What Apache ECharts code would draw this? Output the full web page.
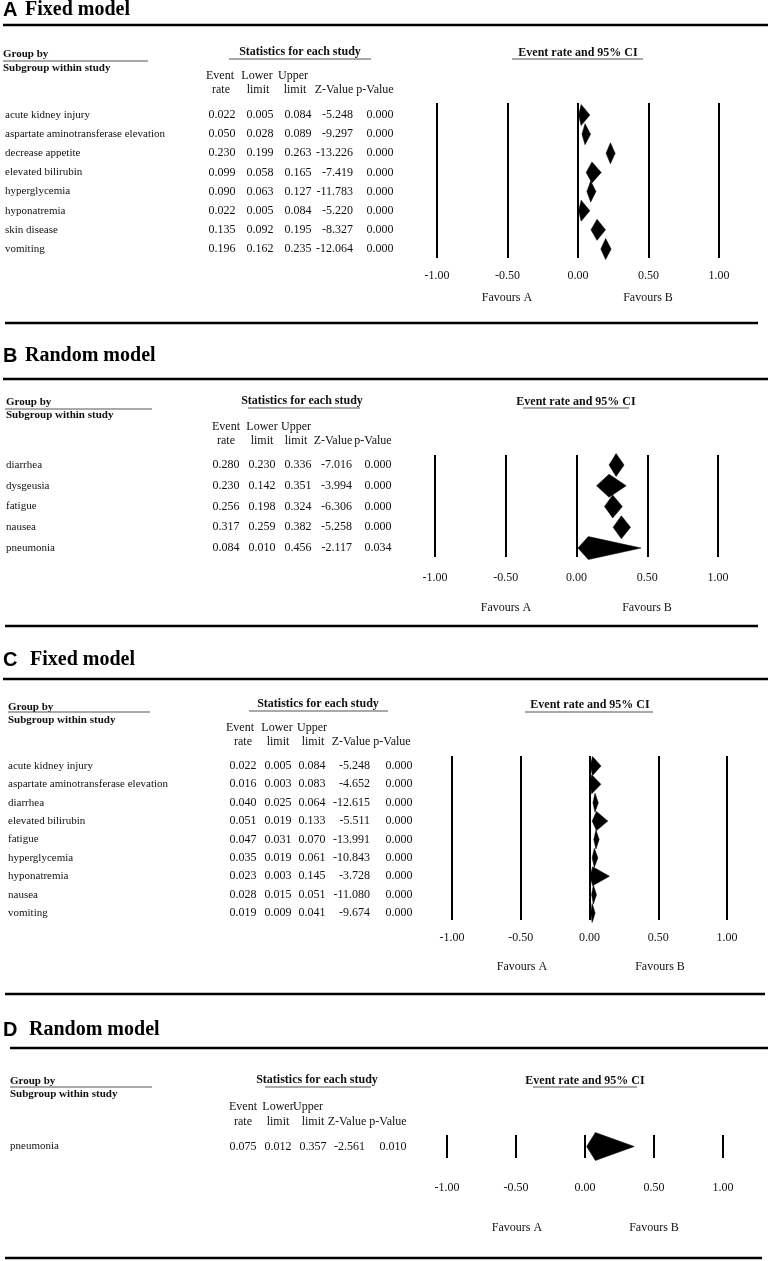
<!DOCTYPE html>
<html><head><meta charset="utf-8">
<script src="https://cdn.jsdelivr.net/npm/echarts@6/dist/echarts.min.js"></script>
<style>html,body{margin:0;padding:0;background:#fff}#c{width:768px;height:1261px}</style>
</head><body><div id="c"></div>
<script>
// ---------- DATA ----------
const panelLetters = ['A', 'B', 'C', 'D'];
const panelTitles = ['Fixed model', 'Random model', 'Fixed model', 'Random model'];
const groupByLabel = 'Group by';
const subgroupLabel = 'Subgroup within study';
const statsLabel = 'Statistics for each study';
const ciLabel = 'Event rate and 95% CI';
const headerRow1 = ['Event', 'Lower', 'Upper'];
const headerRow2 = ['rate', 'limit', 'limit', 'Z-Value', 'p-Value'];
const favourLabels = ['Favours A', 'Favours B'];
const xMin = -1, xMax = 1, xInterval = 0.5;

const aNames = ['acute kidney injury', 'aspartate aminotransferase elevation', 'decrease appetite', 'elevated bilirubin', 'hyperglycemia', 'hyponatremia', 'skin disease', 'vomiting'];
const aRate  = [0.022, 0.050, 0.230, 0.099, 0.090, 0.022, 0.135, 0.196];
const aLower = [0.005, 0.028, 0.199, 0.058, 0.063, 0.005, 0.092, 0.162];
const aUpper = [0.084, 0.089, 0.263, 0.165, 0.127, 0.084, 0.195, 0.235];
const aZ     = [-5.248, -9.297, -13.226, -7.419, -11.783, -5.220, -8.327, -12.064];
const aP     = [0.000, 0.000, 0.000, 0.000, 0.000, 0.000, 0.000, 0.000];

const bNames = ['diarrhea', 'dysgeusia', 'fatigue', 'nausea', 'pneumonia'];
const bRate  = [0.280, 0.230, 0.256, 0.317, 0.084];
const bLower = [0.230, 0.142, 0.198, 0.259, 0.010];
const bUpper = [0.336, 0.351, 0.324, 0.382, 0.456];
const bZ     = [-7.016, -3.994, -6.306, -5.258, -2.117];
const bP     = [0.000, 0.000, 0.000, 0.000, 0.034];

const cNames = ['acute kidney injury', 'aspartate aminotransferase elevation', 'diarrhea', 'elevated bilirubin', 'fatigue', 'hyperglycemia', 'hyponatremia', 'nausea', 'vomiting'];
const cRate  = [0.022, 0.016, 0.040, 0.051, 0.047, 0.035, 0.023, 0.028, 0.019];
const cLower = [0.005, 0.003, 0.025, 0.019, 0.031, 0.019, 0.003, 0.015, 0.009];
const cUpper = [0.084, 0.083, 0.064, 0.133, 0.070, 0.061, 0.145, 0.051, 0.041];
const cZ     = [-5.248, -4.652, -12.615, -5.511, -13.991, -10.843, -3.728, -11.080, -9.674];
const cP     = [0.000, 0.000, 0.000, 0.000, 0.000, 0.000, 0.000, 0.000, 0.000];

const dNames = ['pneumonia'];
const dRate  = [0.075];
const dLower = [0.012];
const dUpper = [0.357];
const dZ     = [-2.561];
const dP     = [0.010];

// ---------- LAYOUT ----------
const layouts = [
  {letterY:10, titleX:25, ruleY:25, ruleX:[3,768],
   gbX:3, gbY:54, gbUlY:61, gbUlX:[3,148], subY:68,
   statX:300, statY:52, statUl:[229,371,59], ciX:578, ciY:53, ciUl:[512,643,59],
   h1Y:76, h1X:[220,257,293], h2Y:90, h2X:[221,258,295,334,375],
   nameX:5, colX:[222,260,298], zX:353, pX:380,
   top:103, height:155, left:437, right:49, yMin:-0.63, yMax:7.47, dh:10.5, margin:12,
   favY:298, favX:[507,648], botY:323, botX:[5,758]},
  {letterY:356, titleX:25, ruleY:379, ruleX:[3,768],
   gbX:6, gbY:402, gbUlY:409, gbUlX:[5,152], subY:415,
   statX:302, statY:401, statUl:[248,360,408], ciX:576, ciY:402, ciUl:[523,629,408],
   h1Y:427, h1X:[226,262,296], h2Y:441, h2X:[226,262,296,333,373],
   nameX:6, colX:[226,262,298], zX:352, pX:378,
   top:455, height:102, left:435, right:50, yMin:-0.48, yMax:4.43, dh:11.5, margin:15,
   favY:608, favX:[506,647], botY:626, botX:[5,758]},
  {letterY:660, titleX:30, ruleY:679, ruleX:[3,768],
   gbX:8, gbY:707, gbUlY:712, gbUlX:[8,150], subY:720,
   statX:318, statY:704, statUl:[249,388,711], ciX:590, ciY:705, ciUl:[525,653,712],
   h1Y:728, h1X:[240,277,312], h2Y:742, h2X:[243,278,313,351,392],
   nameX:8, colX:[243,278,312], zX:370, pX:399,
   top:756, height:164, left:452, right:41, yMin:-0.54, yMax:8.38, dh:9.5, margin:12,
   favY:967, favX:[522,660], botY:994, botX:[5,765]},
  {letterY:1030, titleX:29, ruleY:1048, ruleX:[10,768],
   gbX:10, gbY:1081, gbUlY:1087, gbUlX:[10,152], subY:1094,
   statX:317, statY:1080, statUl:[265,371,1087], ciX:585, ciY:1081, ciUl:[533,637,1087],
   h1Y:1107, h1X:[243,278,308], h2Y:1122, h2X:[243,278,313,347,388],
   nameX:10, colX:[243,278,313], zX:365, pX:393,
   top:1135, height:23, left:447, right:45, yMin:-0.5, yMax:0.5, dh:14, margin:24,
   favY:1228, favX:[517,654], botY:1258, botX:[5,762]}
];

const panels = [
  [aNames, aRate, aLower, aUpper, aZ, aP],
  [bNames, bRate, bLower, bUpper, bZ, bP],
  [cNames, cRate, cLower, cUpper, cZ, cP],
  [dNames, dRate, dLower, dUpper, dZ, dP]
];

const SERIF = "'Liberation Serif', 'Times New Roman', serif";
const SANS = "'Liberation Sans', Arial, sans-serif";
const INK = '#111';

function txt(text, x, y, align, font, fill) {
  return {type:'text', x:x, y:y, silent:true,
    style:{text:text, font:font, fill:fill || INK, align:align, verticalAlign:'middle', textAlign:align, textVerticalAlign:'middle'}};
}
function ln(x1, y1, x2, y2, w, c) {
  return {type:'line', silent:true, shape:{x1:x1, y1:y1, x2:x2, y2:y2}, style:{stroke:c || '#000', lineWidth:w}};
}

const grids = [], xAxes = [], yAxes = [], series = [], graphics = [];

layouts.forEach((L, gi) => {
  const [names, rate, lower, upper, zv, pv] = panels[gi];
  grids.push({left:L.left, right:L.right, top:L.top, height:L.height, outerBoundsMode:'none', containLabel:false});
  xAxes.push({type:'value', gridIndex:gi, min:xMin, max:xMax, interval:xInterval,
    axisLine:{show:false}, axisTick:{show:false},
    splitLine:{show:true, lineStyle:{color:'#000', width:2}},
    axisLabel:{margin:L.margin, color:INK, fontFamily:SERIF, fontSize:12, formatter:v => v.toFixed(2)}});
  yAxes.push({type:'value', gridIndex:gi, min:L.yMin, max:L.yMax, inverse:true, show:false, splitLine:{show:false}});

  // diamonds
  series.push({type:'custom', xAxisIndex:gi, yAxisIndex:gi, silent:true, clip:false,
    data: rate.map((r, i) => [r, i, lower[i], upper[i]]),
    encode:{x:0, y:1},
    renderItem:(params, api) => {
      const est = api.value(0), row = api.value(1), lo = api.value(2), hi = api.value(3);
      const pl = api.coord([lo, row]), pe = api.coord([est, row]), ph = api.coord([hi, row]);
      const h = L.dh;
      return {type:'polygon', shape:{points:[[pl[0], pl[1]], [pe[0], pe[1] - h], [ph[0], ph[1]], [pe[0], pe[1] + h]]},
        style:{fill:'#000', stroke:'#000', lineWidth:0.5}};
    }});

  // table rows aligned with the axis rows
  series.push({type:'custom', xAxisIndex:gi, yAxisIndex:gi, silent:true, clip:false,
    data: names.map((n, i) => [0, i]),
    encode:{x:0, y:1},
    renderItem:(params, api) => {
      const i = params.dataIndex;
      const y = api.coord([0, i])[1];
      const f11 = '11px ' + SERIF, f12 = '12px ' + SERIF;
      return {type:'group', children:[
        txt(names[i], L.nameX, y, 'left', f11),
        txt(rate[i].toFixed(3), L.colX[0], y, 'center', f12),
        txt(lower[i].toFixed(3), L.colX[1], y, 'center', f12),
        txt(upper[i].toFixed(3), L.colX[2], y, 'center', f12),
        txt(zv[i].toFixed(3), L.zX, y, 'right', f12),
        txt(pv[i].toFixed(3), L.pX, y, 'center', f12)
      ]};
    }});

  // titles and headers
  graphics.push(txt(panelLetters[gi], 3, L.letterY, 'left', 'bold 20px ' + SANS, '#000'));
  graphics.push(txt(panelTitles[gi], L.titleX, L.letterY, 'left', 'bold 20px ' + SERIF, '#000'));
  graphics.push(ln(L.ruleX[0], L.ruleY, L.ruleX[1], L.ruleY, 2.5, '#000'));
  graphics.push(txt(groupByLabel, L.gbX, L.gbY, 'left', 'bold 11px ' + SERIF));
  graphics.push(ln(L.gbUlX[0], L.gbUlY, L.gbUlX[1], L.gbUlY, 1, '#555'));
  graphics.push(txt(subgroupLabel, L.gbX, L.subY, 'left', 'bold 11px ' + SERIF));
  graphics.push(txt(statsLabel, L.statX, L.statY, 'center', 'bold 12px ' + SERIF));
  graphics.push(ln(L.statUl[0], L.statUl[2], L.statUl[1], L.statUl[2], 1.2, '#555'));
  graphics.push(txt(ciLabel, L.ciX, L.ciY, 'center', 'bold 12px ' + SERIF));
  graphics.push(ln(L.ciUl[0], L.ciUl[2], L.ciUl[1], L.ciUl[2], 1.2, '#555'));
  headerRow1.forEach((h, k) => graphics.push(txt(h, L.h1X[k], L.h1Y, 'center', '12px ' + SERIF)));
  headerRow2.forEach((h, k) => graphics.push(txt(h, L.h2X[k], L.h2Y, 'center', '12px ' + SERIF)));
  favourLabels.forEach((h, k) => graphics.push(txt(h, L.favX[k], L.favY, 'center', '12px ' + SERIF)));
  graphics.push(ln(L.botX[0], L.botY, L.botX[1], L.botY, 2.5, '#000'));
});

const chart = echarts.init(document.getElementById('c'), null, {renderer:'canvas'});
chart.setOption({
  backgroundColor:'#fff',
  animation:false,
  grid:grids, xAxis:xAxes, yAxis:yAxes, series:series,
  graphic:{elements:graphics}
});
</script>
</body></html>
